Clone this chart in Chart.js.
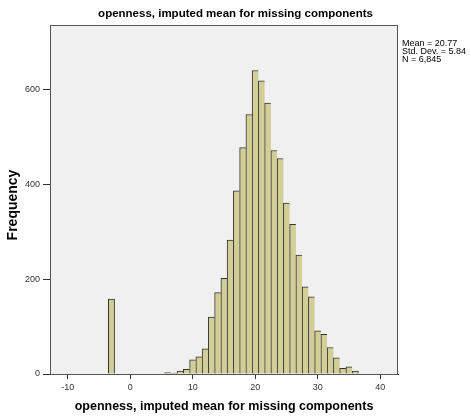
<!DOCTYPE html>
<html>
<head>
<meta charset="utf-8">
<script src="https://cdn.jsdelivr.net/npm/chart.js@4"></script>
<style>
  html, body { margin: 0; padding: 0; background: #fff; }
  #wrap { width: 471px; height: 419px; }
</style>
</head>
<body>
<div id="wrap"><canvas id="hist" width="471" height="419"></canvas></div>
<script>
const bins = [-3, 6, 7, 8, 9, 10, 11, 12, 13, 14, 15, 16, 17, 18, 19, 20, 21, 22, 23, 24, 25, 26, 27, 28, 29, 30, 31, 32, 33, 34, 35, 36];
const counts = [158, 3, 2, 6, 10, 30, 36, 53, 120, 172, 202, 283, 387, 478, 548, 641, 619, 572, 472, 455, 361, 316, 251, 184, 163, 91, 84, 56, 34, 12, 15, 6];
const xTicks = [-10, 0, 10, 20, 30, 40];
const yTicks = [0, 200, 400, 600];
const statLines = ["Mean = 20.77", "Std. Dev. = 5.84", "N = 6,845"];
const titleText = "openness, imputed mean for missing components";
const yTitle = "Frequency";

const FONT = "'Liberation Sans', Arial, sans-serif";

// plot background, frame, y title and the stats box on the right
const framePlugin = {
  id: "frame",
  beforeDraw(chart) {
    const {ctx, chartArea: a} = chart;
    ctx.save();
    ctx.fillStyle = "#f0f0f0";
    ctx.fillRect(a.left, a.top, a.right - a.left, a.bottom - a.top);
    ctx.restore();
  },
  afterDatasetsDraw(chart) {
    const {ctx, chartArea: a} = chart;
    ctx.save();
    ctx.strokeStyle = "#555";
    ctx.lineWidth = 1;
    ctx.strokeRect(a.left + 0.5, a.top + 0.5, a.right - a.left - 1, a.bottom - a.top);
    ctx.restore();
  },
  afterDraw(chart) {
    const {ctx, chartArea: a} = chart;
    ctx.save();
    ctx.fillStyle = "#000";
    ctx.font = "9px " + FONT;
    ctx.textBaseline = "middle";
    statLines.forEach((s, i) => ctx.fillText(s, a.right + 4, 44 + i * 8));
    // y axis title, sits a bit below the middle like the original
    ctx.font = "bold 14px " + FONT;
    ctx.translate(13.5, 205);
    ctx.rotate(-Math.PI / 2);
    ctx.textAlign = "center";
    ctx.fillText(yTitle, 0, 0);
    ctx.restore();
  }
};

const points = bins.map((b, i) => ({x: b, y: counts[i]}));

new Chart(document.getElementById("hist").getContext("2d"), {
  type: "bar",
  data: {
    datasets: [{
      data: points,
      backgroundColor: "#d3ce97",
      borderColor: "#333",
      borderSkipped: false,
      borderWidth: (c) => {
        const b = bins[c.dataIndex];
        const hasNext = bins.includes(b + 1);
        return {top: 1, left: 1, bottom: 0, right: hasNext ? 0 : 1};
      },
      barPercentage: 1,
      categoryPercentage: 1,
    }],
  },
  plugins: [framePlugin],
  options: {
    responsive: false,
    animation: false,
    events: [],
    layout: {padding: 0},
    plugins: {
      legend: {display: false},
      tooltip: {enabled: false},
      title: {
        display: true,
        text: titleText,
        color: "#000",
        font: {family: FONT, size: 11.5, weight: "bold", lineHeight: 1.2},
        padding: {top: 7, bottom: 4.2},
      },
    },
    scales: {
      x: {
        type: "linear",
        min: -12.83,
        max: 42.83,
        offset: false,
        afterBuildTicks: (s) => { s.ticks = xTicks.map(v => ({value: v})); },
        afterFit: (s) => { s.height = 45; },
        border: {display: true, color: "#333", width: 1},
        grid: {display: true, offset: false, drawOnChartArea: false, drawTicks: true, tickLength: 5, color: "#333"},
        ticks: {color: "#333", font: {family: FONT, size: 9}, padding: 3, maxRotation: 0},
        title: {
          display: true,
          text: titleText,
          color: "#000",
          font: {family: FONT, size: 12.5, weight: "bold", lineHeight: 1.2},
          padding: {top: 0, bottom: 5},
        },
      },
      y: {
        min: 0,
        max: 737,
        afterBuildTicks: (s) => { s.ticks = yTicks.map(v => ({value: v})); },
        afterFit: (s) => { s.width = 50; },
        border: {display: true, color: "#333", width: 1},
        grid: {display: true, drawOnChartArea: false, drawTicks: true, tickLength: 7, color: "#333"},
        ticks: {color: "#333", font: {family: FONT, size: 9}, padding: 3},
      },
      // empty strip on the right that holds the stats text
      side: {
        position: "right",
        min: 0,
        max: 737,
        afterFit: (s) => { s.width = 73; },
        border: {display: false},
        grid: {display: false},
        ticks: {display: false},
      },
    },
  },
});
</script>
</body>
</html>
